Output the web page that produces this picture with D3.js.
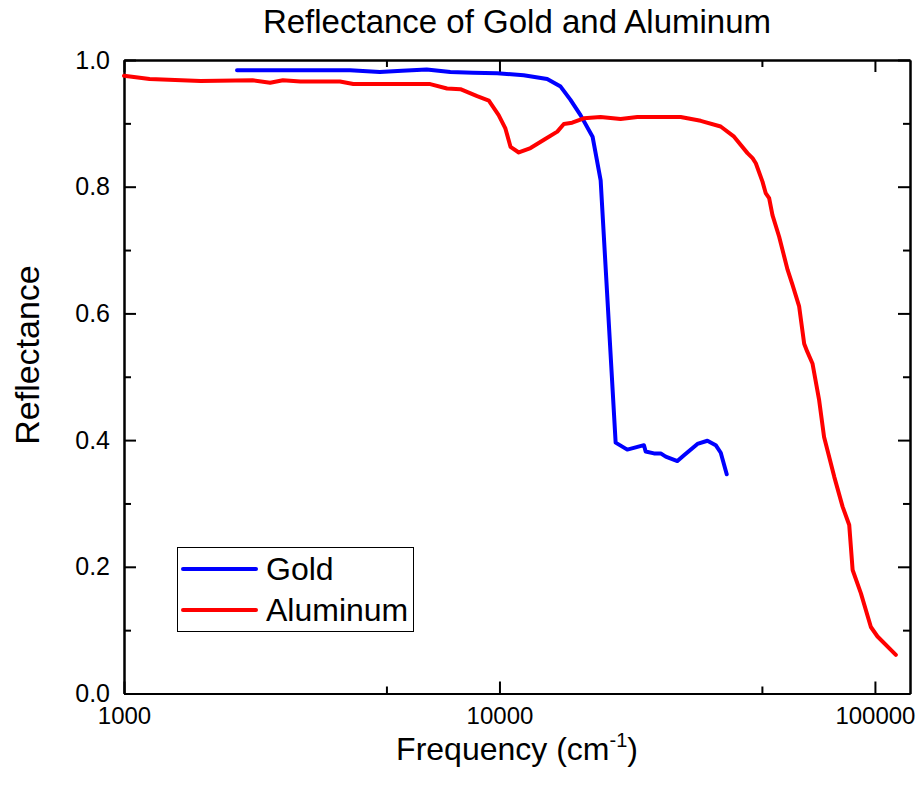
<!DOCTYPE html>
<html>
<head>
<meta charset="utf-8">
<script src="https://cdn.jsdelivr.net/npm/d3@7"></script>
<style>
  html, body { margin: 0; padding: 0; background: #fff; }
  svg { display: block; font-family: "Liberation Sans", Arial, sans-serif; }
  .axis path, .axis line { stroke: #000; stroke-width: 2; }
  .axis text { font-size: 25px; fill: #000; }
</style>
</head>
<body>
<svg id="chart" width="924" height="796"></svg>
<script>
// Gold reflectance vs frequency (cm^-1)
const goldFreq = [2000, 3000, 4000, 4800, 5500, 6400, 7400, 8500, 9860, 11600, 13400, 14550, 15460, 16440, 17700, 18600,
  20390, 21900, 24260, 24510, 25790, 26880, 27720, 29780, 31010, 33670, 35800, 37670, 38850, 40300];
const goldR = [0.984, 0.984, 0.984, 0.981, 0.983, 0.985, 0.981, 0.980, 0.979, 0.976, 0.970, 0.958, 0.937, 0.913, 0.879, 0.810,
  0.396, 0.385, 0.392, 0.382, 0.379, 0.379, 0.374, 0.367, 0.376, 0.394, 0.399, 0.392, 0.380, 0.346];

// Aluminum reflectance vs frequency (cm^-1)
const alFreq = [1000, 1170, 1600, 2200, 2450, 2650, 2950, 3760, 4080, 5450, 6540, 7250, 7870, 8720, 9370, 9950, 10370, 10700,
  11260, 12100, 13140, 14260, 14840, 15620, 16780, 18590, 21020, 23290, 30380, 34350, 38830, 42150, 45770, 47210, 48170,
  50180, 51170, 52270, 53350, 55580, 57320, 58520, 60330, 62830, 64800, 66000, 68180, 71030, 73210, 77930, 82010, 85420,
  87220, 91780, 97550, 101600, 113700];
const alR = [0.975, 0.970, 0.967, 0.968, 0.964, 0.968, 0.966, 0.966, 0.962, 0.962, 0.962, 0.955, 0.954, 0.943, 0.936, 0.913,
  0.892, 0.863, 0.854, 0.861, 0.874, 0.887, 0.899, 0.901, 0.908, 0.910, 0.907, 0.910, 0.910, 0.904, 0.895, 0.879, 0.853,
  0.845, 0.837, 0.808, 0.790, 0.782, 0.755, 0.721, 0.690, 0.669, 0.645, 0.611, 0.552, 0.540, 0.521, 0.463, 0.405, 0.342,
  0.295, 0.266, 0.195, 0.158, 0.105, 0.090, 0.061];

// Axis ticks
const xMajorTicks = [1000, 10000, 100000];
const xMinorTicks = [5000, 50000];
const yMajorTicks = [0, 0.2, 0.4, 0.6, 0.8, 1.0];
const yMinorTicks = [0.1, 0.3, 0.5, 0.7, 0.9];

const seriesNames = ["Gold", "Aluminum"];
const seriesColors = ["#0000ff", "#ff0000"];

const svg = d3.select("#chart");
const plotLeft = 124, plotRight = 910, plotTop = 60, plotBottom = 693.5;

const x = d3.scaleLog().domain([1000, 124000]).range([plotLeft, plotRight]);
const y = d3.scaleLinear().domain([0, 1]).range([plotBottom, plotTop]);

function drawAxis(gen, transform) {
  return svg.append("g").attr("class", "axis").attr("transform", transform).call(gen);
}

// Major / minor ticks on all four sides, pointing inward
drawAxis(d3.axisBottom(x).tickValues(xMajorTicks).tickSize(-12).tickSizeOuter(0).tickPadding(13).tickFormat(d3.format("d")),
  `translate(0,${plotBottom})`).selectAll("text").style("font-size", "24px");
drawAxis(d3.axisBottom(x).tickValues(xMinorTicks).tickSize(-7).tickSizeOuter(0).tickFormat(""), `translate(0,${plotBottom})`);
drawAxis(d3.axisTop(x).tickValues(xMajorTicks).tickSize(-12).tickSizeOuter(0).tickFormat(""), `translate(0,${plotTop})`);
drawAxis(d3.axisTop(x).tickValues(xMinorTicks).tickSize(-7).tickSizeOuter(0).tickFormat(""), `translate(0,${plotTop})`);

drawAxis(d3.axisLeft(y).tickValues(yMajorTicks).tickSize(-12).tickSizeOuter(0).tickPadding(14).tickFormat(d3.format(".1f")),
  `translate(${plotLeft},0)`);
drawAxis(d3.axisLeft(y).tickValues(yMinorTicks).tickSize(-7).tickSizeOuter(0).tickFormat(""), `translate(${plotLeft},0)`);
drawAxis(d3.axisRight(y).tickValues(yMajorTicks).tickSize(-12).tickSizeOuter(0).tickFormat(""), `translate(${plotRight},0)`);
drawAxis(d3.axisRight(y).tickValues(yMinorTicks).tickSize(-7).tickSizeOuter(0).tickFormat(""), `translate(${plotRight},0)`);

// Curves
const line = d3.line().x(d => x(d[0])).y(d => y(d[1]));
const series = [
  d3.zip(goldFreq, goldR),
  d3.zip(alFreq, alR)
];
series.forEach((pts, i) => {
  svg.append("path")
    .datum(pts)
    .attr("d", line)
    .attr("fill", "none")
    .attr("stroke", seriesColors[i])
    .attr("stroke-width", 4)
    .attr("stroke-linejoin", "round")
    .attr("stroke-linecap", "round");
});

// Title
svg.append("text")
  .attr("x", 517)
  .attr("y", 33)
  .attr("text-anchor", "middle")
  .attr("font-size", 33)
  .text("Reflectance of Gold and Aluminum");

// X axis title with superscript
const xt = svg.append("text")
  .attr("x", 517)
  .attr("y", 760)
  .attr("text-anchor", "middle")
  .attr("font-size", 32);
xt.append("tspan").text("Frequency (cm");
xt.append("tspan").attr("font-size", 20).attr("dy", -13).text("-1");
xt.append("tspan").attr("dy", 13).text(")");

// Y axis title
svg.append("text")
  .attr("transform", "translate(39,355) rotate(-90)")
  .attr("text-anchor", "middle")
  .attr("font-size", 34)
  .text("Reflectance");

// Legend
const lg = svg.append("g");
lg.append("rect")
  .attr("x", 177.5).attr("y", 547.5).attr("width", 236).attr("height", 84)
  .attr("fill", "#fff").attr("stroke", "#000").attr("stroke-width", 1);
seriesNames.forEach((name, i) => {
  const ly = 569 + i * 41;
  lg.append("line")
    .attr("x1", 183).attr("x2", 256).attr("y1", ly).attr("y2", ly)
    .attr("stroke", seriesColors[i]).attr("stroke-width", 4).attr("stroke-linecap", "round");
  lg.append("text")
    .attr("x", 266).attr("y", ly + 11)
    .attr("font-size", 32)
    .text(name);
});
</script>
</body>
</html>
